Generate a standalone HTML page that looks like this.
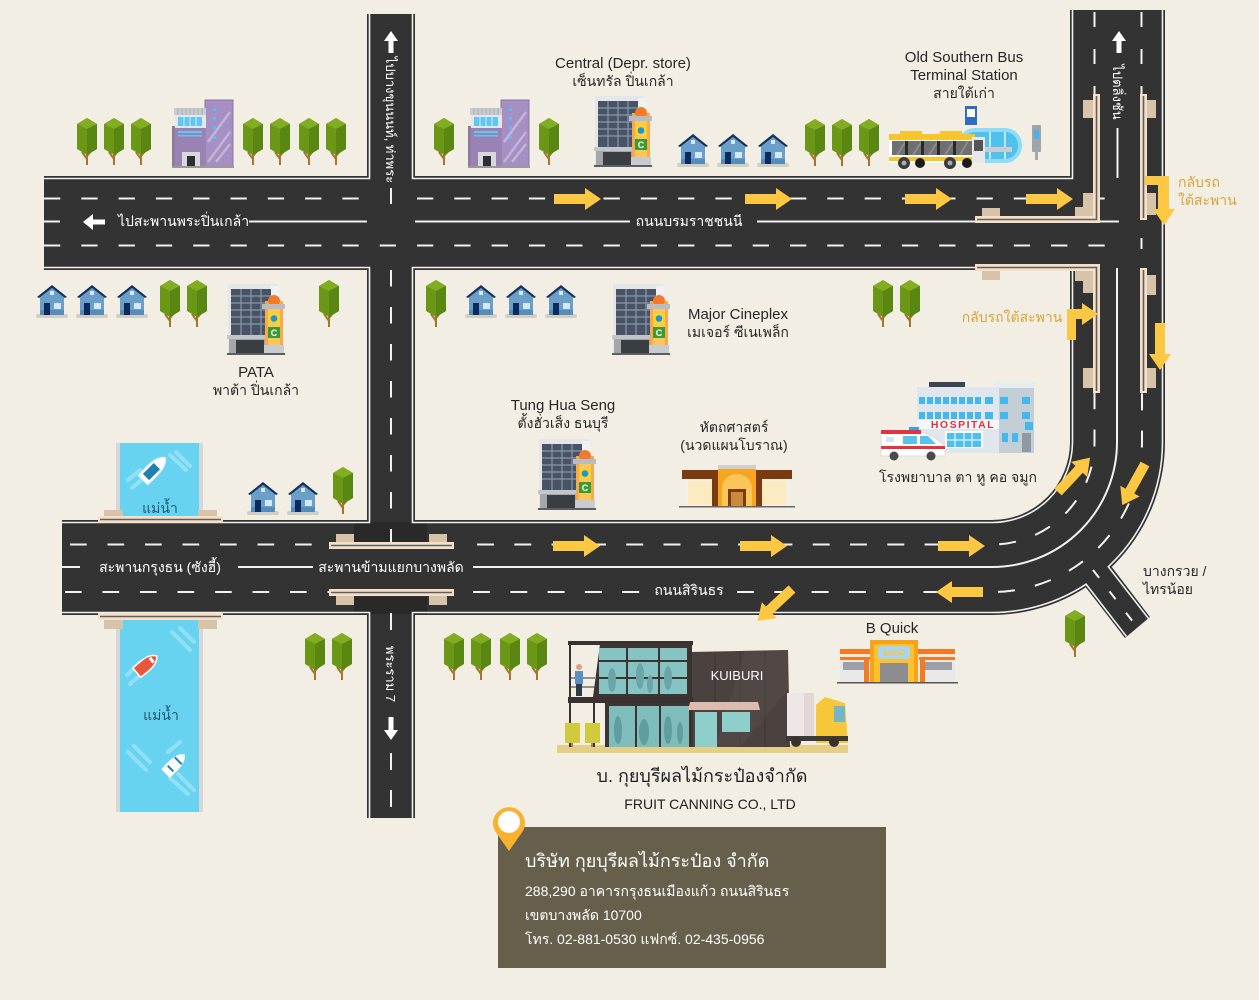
<!DOCTYPE html>
<html><head><meta charset="utf-8">
<style>
html,body{margin:0;padding:0;background:#f2eee4;width:1259px;height:1000px;overflow:hidden}
svg{display:block}
text{font-family:"Liberation Sans","DejaVu Sans",sans-serif}
.l{font-size:14px;fill:#262626;text-anchor:middle}
.e{font-size:15px;fill:#262626;text-anchor:middle}
.w{font-size:14px;fill:#ffffff;text-anchor:middle}
.o{font-size:14px;fill:#d9a43c}
</style></head><body>
<svg width="1259" height="1000" viewBox="0 0 1259 1000" xmlns="http://www.w3.org/2000/svg">
<defs>
 <g id="tree">
  <path d="M0 0V-14M0 -6L-5 -13M0 -9L5 -15" stroke="#a5752f" stroke-width="2" fill="none"/>
  <polygon points="-10,-41 0,-47 10,-41 10,-16 0,-10 -10,-16" fill="#6a9816"/>
  <polygon points="-10,-41 0,-47 10,-41 0,-36" fill="#82ad22"/>
  <polygon points="0,-36 10,-41 10,-16 0,-10" fill="#5a8612"/>
 </g>
 <g id="house">
  <rect x="0" y="30" width="32" height="4" rx="2" fill="#d3cec3"/>
  <rect x="4" y="13" width="24" height="18" fill="#6a9fca"/>
  <rect x="4" y="26" width="24" height="5" fill="#568cb9"/>
  <polygon points="16,4 28,13 4,13" fill="#6a9fca"/>
  <polygon points="16,1 31,13 29,14 16,4 3,14 1,13" fill="#14305c"/>
  <rect x="14" y="7" width="4" height="4" fill="#d6e8f4"/>
  <rect x="8" y="19" width="6" height="12" fill="#0d2a5c"/>
  <rect x="18" y="19" width="7" height="6" fill="#d6e8f4"/>
 </g>
 <g id="mall">
  <rect x="1" y="1" width="50" height="70" fill="#e4e6e9"/>
  <rect x="4" y="6" width="40" height="46" fill="#485465"/>
  <path d="M14 6V52M24 6V52M34 6V52M4 13H44M4 20H44M4 27H44M4 34H44M4 41H44" stroke="#8897a9" stroke-width="1.2"/>
  <rect x="44" y="3" width="8" height="50" fill="#f0f1f3"/>
  <rect x="0" y="52" width="50" height="4" fill="#c2c6cb"/>
  <rect x="2" y="56" width="46" height="15" fill="#a3a7ac"/>
  <rect x="9" y="57" width="28" height="14" fill="#3a3d42"/>
  <rect x="38" y="18" width="18" height="44" fill="#f8a94e"/>
  <rect x="41" y="18" width="12" height="44" fill="#fbc65c"/>
  <circle cx="47" cy="18" r="6" fill="#f27a2b"/>
  <rect x="35" y="21" width="23" height="5" fill="#b9bdc2"/>
  <rect x="41" y="30" width="12" height="11" fill="#fcd32b"/>
  <circle cx="47" cy="35.5" r="3.3" fill="#1f93dc"/>
  <rect x="41" y="44" width="12" height="11" fill="#3b9b2e"/>
  <text x="47" y="53" font-size="9" font-weight="bold" fill="#ffffff" text-anchor="middle">C</text>
  <rect x="37" y="62" width="20" height="9" fill="#c8ccd0"/>
  <rect x="0" y="70" width="58" height="2" fill="#5b5e62"/>
 </g>
 <g id="purp">
  <rect x="33" y="0" width="28" height="67" fill="#a68fc2"/>
  <path d="M36 62L58 32M36 42L58 12M44 62L58 44" stroke="#c4b4d9" stroke-width="2.5"/>
  <rect x="33" y="0" width="28" height="67" fill="none" stroke="#8a74a7" stroke-width="1"/>
  <rect x="41" y="8" width="3" height="3" fill="#4fc3f7"/>
  <rect x="41" y="17" width="3" height="3" fill="#4fc3f7"/>
  <rect x="41" y="26" width="3" height="3" fill="#4fc3f7"/>
  <rect x="41" y="36" width="3" height="3" fill="#4fc3f7"/>
  <rect x="2" y="8" width="32" height="7" fill="#c9ccd1"/>
  <path d="M6 8V15M10 8V15M14 8V15M18 8V15M22 8V15M26 8V15M30 8V15" stroke="#a9adb3" stroke-width="1"/>
  <rect x="0" y="26" width="5" height="41" fill="#8d7aa3"/>
  <rect x="3" y="15" width="31" height="13" fill="#e4e6ea"/>
  <rect x="6" y="17" width="24" height="9" fill="#5ec8f2"/>
  <path d="M12 17V26M18 17V26M24 17V26" stroke="#e4e6ea" stroke-width="1"/>
  <rect x="3" y="28" width="31" height="39" fill="#9b82b5"/>
  <rect x="6" y="31" width="24" height="2" fill="#5ec8f2"/>
  <rect x="6" y="35" width="24" height="1.5" fill="#5ec8f2"/>
  <rect x="10" y="52" width="18" height="15" fill="#d8d8dc"/>
  <rect x="15" y="56" width="8" height="11" fill="#2d2d33"/>
  <rect x="0" y="66" width="62" height="2" fill="#9a9a9a"/>
 </g>
 <polygon id="arr" points="0,-5 31,-5 31,-11 47,0 31,11 31,5 0,5" fill="#fcc843"/>
 <g id="boat">
  <path d="M0 -16C6 -12 7 -4 6 13L-6 13C-7 -4 -6 -12 0 -16Z" fill="#ffffff" stroke="#d9eef5" stroke-width="1"/>
  <rect x="-4" y="-5" width="8" height="14" fill="#1f7fb0"/>
 </g>
</defs>

<rect width="1259" height="1000" fill="#f2eee4"/>

<!-- ROADS -->
<g fill="#333333">
 <rect x="44" y="176" width="1030" height="94"/>
 <rect x="367" y="14" width="48" height="804"/>
 <path d="M1070 10H1165V442A173 173 0 0 1 992 615H62V520H992A78 78 0 0 0 1070 442Z"/>
 <polygon points="1070,567 1095,545 1150,617 1125,638"/>
</g>
<rect x="354" y="522" width="73" height="20" fill="#292929"/>
<rect x="354" y="597" width="73" height="17" fill="#292929"/>

<!-- lane markings -->
<g stroke="#f2f2f2" stroke-width="2" fill="none">
 <path d="M44 198.5H362" stroke-dasharray="16.3 21"/>
 <path d="M417 198.5H1110" stroke-dasharray="16.3 21"/>
 <path d="M44 245.5H1110" stroke-dasharray="16.3 21"/>
 <path d="M44 221.5H60M249 221.5H367M415 221.5H630M757 221.5H1119"/>
 <path d="M70 544.5H330" stroke-dasharray="16.7 20.8"/>
 <path d="M477 544.5H992A102.5 102.5 0 0 0 1094.5 442V393" stroke-dasharray="17 20.3"/>
 <path d="M65 592H330" stroke-dasharray="16.7 20.8"/>
 <path d="M473 592H650" stroke-dasharray="17 20.3"/>
 <path d="M737 592H992A150 150 0 0 0 1142 442V393" stroke-dasharray="17 20.3"/>
 <path d="M62 567H80M238 567H313"/>
 <path d="M473 567H992A125 125 0 0 0 1117 442V268"/>
 <path d="M1117.5 128V178"/>
 <path d="M1141.5 238V249"/>
 <path d="M1094.5 12V94" stroke-dasharray="15 22"/>
 <path d="M1141.5 12V94" stroke-dasharray="15 22"/>
 <path d="M391 188V204"/>
 <path d="M391 270V545" stroke-dasharray="16.5 20.5"/>
 <path d="M391 613V630M391 753V770M391 790V807"/>
 <path d="M1093 570L1137 627" stroke-dasharray="10 17"/>
</g>
<!-- edge lines -->
<g stroke="#f0f0f0" stroke-width="1.6" fill="none">
 <path d="M44 178.5H369.5V14"/>
 <path d="M412.5 14V178.5H1072.5V10"/>
 <path d="M44 267.5H369.5V522.5H62"/>
 <path d="M412.5 267.5H1072.5V442A80.5 80.5 0 0 1 992 522.5H412.5Z"/>
 <path d="M62 612.5H369.5V818"/>
 <path d="M412.5 818V612.5H992A170.5 170.5 0 0 0 1086.1 584.2L1126.5 636.5"/>
 <path d="M1148.5 618.5L1108.3 566.7A170.5 170.5 0 0 0 1162.5 442V10"/>
</g>

<!-- RIVER -->
<rect x="116" y="443" width="87" height="75" fill="#d6d7da"/>
<rect x="120" y="443" width="79" height="75" fill="#67d3f0"/>
<rect x="116" y="618" width="87" height="194" fill="#d6d7da"/>
<rect x="120" y="618" width="79" height="194" fill="#67d3f0"/>
<g stroke="#92e0f5" stroke-width="4" stroke-linecap="round" fill="none">
 <path d="M128 480L140 470M132 488L146 476M170 455L186 470M176 452L190 466"/>
 <path d="M172 632L190 650M180 628L194 642M127 675L140 662M130 684L144 672"/>
 <path d="M128 752L146 770M134 746L150 762M170 778L188 794M178 774L194 790M168 752L180 742"/>
</g>
<use href="#boat" transform="translate(153,470) rotate(45) scale(1.1)"/>
<g transform="translate(146,665) rotate(50)">
 <path d="M0 -14C6 -10 7 -3 6 12L-6 12C-7 -3 -6 -10 0 -14Z" fill="#e8573c" stroke="#ffffff" stroke-width="1.5"/>
 <rect x="-3" y="-9" width="6" height="3" fill="#ffffff"/>
</g>
<g transform="translate(174,765) rotate(45)">
 <path d="M0 -15C6 -11 7 -3 6 12L-6 12C-7 -3 -6 -11 0 -15Z" fill="#ffffff"/>
 <path d="M-5 -6H5M-4 5H4" stroke="#1f7fb0" stroke-width="2"/>
</g>
<text x="160" y="513" font-size="14" fill="#1d5a72" text-anchor="middle">แม่น้ำ</text>
<text x="161" y="720" font-size="14" fill="#1d5a72" text-anchor="middle">แม่น้ำ</text>

<!-- BRIDGE RAILS -->
<g fill="#d6c3a9">
 <rect x="104" y="510" width="19" height="8"/><rect x="198" y="510" width="19" height="8"/>
 <rect x="104" y="620" width="19" height="9"/><rect x="198" y="620" width="19" height="9"/>
 <rect x="336" y="534" width="18" height="9"/><rect x="429" y="534" width="18" height="9"/>
 <rect x="336" y="596" width="18" height="9"/><rect x="429" y="596" width="18" height="9"/>
 <rect x="1083" y="100" width="10" height="18"/>
 <rect x="1083" y="193" width="10" height="23"/><rect x="1075" y="207" width="18" height="9"/>
 <rect x="982" y="208" width="18" height="8"/>
 <rect x="982" y="271" width="18" height="9"/>
 <rect x="1075" y="271" width="18" height="10"/><rect x="1083" y="271" width="10" height="22"/>
 <rect x="1083" y="368" width="10" height="20"/>
 <rect x="1147" y="100" width="9" height="18"/><rect x="1147" y="193" width="9" height="22"/>
 <rect x="1147" y="275" width="9" height="20"/><rect x="1147" y="368" width="9" height="20"/>
</g>
<g fill="#f7dfc4">
 <rect x="98" y="516" width="125" height="7"/>
 <rect x="98" y="613" width="125" height="7"/>
 <rect x="329" y="542" width="125" height="7"/>
 <rect x="329" y="589" width="125" height="7"/>
 <rect x="975" y="216" width="125" height="7"/>
 <rect x="1093" y="94" width="7" height="129"/>
 <rect x="975" y="264" width="125" height="7"/>
 <rect x="1093" y="264" width="7" height="129"/>
 <rect x="1140" y="94" width="7" height="126"/>
 <rect x="1140" y="268" width="7" height="125"/>
</g>
<g stroke="#59606a" stroke-width="1.6" fill="none">
 <path d="M100 519.5H221M100 616.5H221M331 545.5H452M331 592.5H452"/>
 <path d="M977 219.5H1096.5V96M977 267.5H1096.5V391"/>
 <path d="M1143.5 96V218M1143.5 270V391"/>
</g>

<!-- ARROWS -->
<use href="#arr" transform="translate(554,199)"/>
<use href="#arr" transform="translate(745,199)"/>
<use href="#arr" transform="translate(905,199)"/>
<use href="#arr" transform="translate(1026,199)"/>
<use href="#arr" transform="translate(553,546)"/>
<use href="#arr" transform="translate(740,546)"/>
<use href="#arr" transform="translate(938,546)"/>
<use href="#arr" transform="translate(983,592) rotate(180)"/>
<use href="#arr" transform="translate(792,589) rotate(137)"/>
<use href="#arr" transform="translate(1058,492) rotate(-47)"/>
<use href="#arr" transform="translate(1145,464) rotate(119)"/>
<use href="#arr" transform="translate(1160,323) rotate(90)"/>
<polygon points="1145,176 1169,176 1169,209 1175,209 1164,225 1153,209 1158,209 1158,185 1145,185" fill="#fcc843"/>
<polygon points="1067,340 1067,309 1082,309 1082,303 1098,314 1082,325 1082,319 1076,319 1076,340" fill="#fcc843"/>
<g fill="#ffffff">
 <polygon points="83,222 93,214 93,219.5 105,219.5 105,224.5 93,224.5 93,230"/>
 <polygon points="391,31 398,41 393.5,41 393.5,53 388.5,53 388.5,41 384,41"/>
 <polygon points="1119,31 1126,41 1121.5,41 1121.5,53 1116.5,53 1116.5,41 1112,41"/>
 <polygon points="391,740 398,730 393.5,730 393.5,717 388.5,717 388.5,730 384,730"/>
</g>

<!-- ROAD LABELS -->
<text x="118" y="226" font-size="14" fill="#ffffff">ไปสะพานพระปิ่นเกล้า</text>
<text class="w" x="689" y="226">ถนนบรมราชชนนี</text>
<text class="w" x="160" y="572">สะพานกรุงธน (ซังฮี้)</text>
<text class="w" x="391" y="572">สะพานข้ามแยกบางพลัด</text>
<text class="w" x="689" y="595">ถนนสิรินธร</text>
<text class="w" style="font-size:13px" transform="translate(391,120) rotate(90)" x="0" y="5">ไปบางขุนนนท์, ท่าพระ</text>
<text class="w" style="font-size:13px" transform="translate(1118,92) rotate(90)" x="0" y="5">ไปตลิ่งชัน</text>
<text class="w" style="font-size:13px" transform="translate(391,674) rotate(90)" x="0" y="5">พระราม 7</text>

<!-- TREES -->
<use href="#tree" x="87" y="165"/><use href="#tree" x="114" y="165"/><use href="#tree" x="141" y="165"/>
<use href="#tree" x="253" y="165"/><use href="#tree" x="280" y="165"/><use href="#tree" x="309" y="165"/><use href="#tree" x="336" y="165"/>
<use href="#tree" x="444" y="165"/><use href="#tree" x="549" y="165"/>
<use href="#tree" x="815" y="166"/><use href="#tree" x="842" y="166"/><use href="#tree" x="869" y="166"/>
<use href="#tree" x="170" y="327"/><use href="#tree" x="197" y="327"/><use href="#tree" x="329" y="327"/>
<use href="#tree" x="436" y="327"/><use href="#tree" x="883" y="327"/><use href="#tree" x="910" y="327"/>
<use href="#tree" x="343" y="514"/>
<use href="#tree" x="315" y="680"/><use href="#tree" x="342" y="680"/>
<use href="#tree" x="454" y="680"/><use href="#tree" x="481" y="680"/><use href="#tree" x="510" y="680"/><use href="#tree" x="537" y="680"/>
<use href="#tree" x="1075" y="657"/>

<!-- HOUSES -->
<use href="#house" x="677" y="133"/><use href="#house" x="717" y="133"/><use href="#house" x="757" y="133"/>
<use href="#house" x="36" y="284"/><use href="#house" x="76" y="284"/><use href="#house" x="116" y="284"/>
<use href="#house" x="465" y="284"/><use href="#house" x="505" y="284"/><use href="#house" x="545" y="284"/>
<use href="#house" x="247" y="481"/><use href="#house" x="287" y="481"/>

<!-- BUILDINGS -->
<use href="#purp" x="172" y="100"/>
<use href="#purp" x="468" y="100"/>
<use href="#mall" x="594" y="95"/>
<use href="#mall" x="227" y="283"/>
<use href="#mall" x="612" y="283"/>
<use href="#mall" x="538" y="438"/>

<!-- BUS STATION -->
<rect x="958" y="128" width="64" height="35" rx="17" fill="#8edcf5"/>
<rect x="962" y="132" width="56" height="27" rx="13" fill="#4fc1ec"/>
<path d="M990 132V159M1005 132V159" stroke="#bdeafa" stroke-width="2"/>
<rect x="968" y="147" width="44" height="5" fill="#c7cdd2"/>
<rect x="965" y="106" width="12" height="19" fill="#2e6ec2"/>
<rect x="967" y="109" width="8" height="8" fill="#ffffff"/>
<rect x="1032" y="125" width="9" height="27" rx="1" fill="#9ea4aa"/>
<rect x="1034" y="130" width="5" height="9" fill="#49b5e5"/>
<rect x="1035" y="151" width="3" height="9" fill="#a3a8ad"/>
<rect x="889" y="134" width="86" height="29" rx="2" fill="#ffffff"/>
<rect x="889" y="134" width="86" height="6" fill="#f7c52c"/>
<rect x="900" y="131" width="22" height="4" fill="#f7c52c"/>
<rect x="940" y="131" width="22" height="4" fill="#f7c52c"/>
<rect x="892" y="141" width="80" height="14" fill="#6f6f6f"/>
<path d="M897 155L906 141M913 155L922 141M929 155L938 141M945 155L954 141M960 155L968 141" stroke="#8c8c8c" stroke-width="2"/>
<g fill="#2a2a2a"><rect x="905" y="141" width="3" height="14"/><rect x="921" y="141" width="3" height="14"/><rect x="937" y="141" width="3" height="14"/><rect x="953" y="141" width="3" height="14"/></g>
<rect x="889" y="157" width="86" height="4" fill="#f7c52c"/>
<rect x="972" y="137" width="13" height="26" fill="#e8e8e8"/>
<rect x="974" y="140" width="9" height="11" fill="#555555"/>
<circle cx="920" cy="163" r="5" fill="#1a1a1a"/><circle cx="967" cy="163" r="5" fill="#1a1a1a"/>
<circle cx="904" cy="163" r="6" fill="#3a3a3a"/><circle cx="904" cy="163" r="2.5" fill="#aaaaaa"/>
<circle cx="950" cy="163" r="6" fill="#3a3a3a"/><circle cx="950" cy="163" r="2.5" fill="#aaaaaa"/>

<!-- HOSPITAL -->
<rect x="929" y="382" width="36" height="5" fill="#3d4450"/>
<rect x="997" y="385" width="37" height="68" fill="#c4ced7"/>
<rect x="995" y="382" width="40" height="6" fill="#e6ecf0"/>
<rect x="917" y="387" width="82" height="66" fill="#dfe6ec"/>
<g fill="#44b8ec">
 <rect x="919" y="397" width="6" height="7"/><rect x="927" y="397" width="6" height="7"/><rect x="935" y="397" width="6" height="7"/><rect x="943" y="397" width="6" height="7"/><rect x="951" y="397" width="6" height="7"/><rect x="959" y="397" width="6" height="7"/><rect x="967" y="397" width="6" height="7"/><rect x="975" y="397" width="6" height="7"/><rect x="985" y="397" width="8" height="7"/>
 <rect x="919" y="412" width="6" height="7"/><rect x="927" y="412" width="6" height="7"/><rect x="935" y="412" width="6" height="7"/><rect x="943" y="412" width="6" height="7"/><rect x="951" y="412" width="6" height="7"/><rect x="959" y="412" width="6" height="7"/><rect x="967" y="412" width="6" height="7"/><rect x="975" y="412" width="6" height="7"/><rect x="985" y="412" width="8" height="7"/>
 <rect x="1000" y="397" width="8" height="7"/><rect x="1022" y="397" width="8" height="7"/>
 <rect x="1000" y="412" width="8" height="7"/><rect x="1022" y="412" width="8" height="7"/>
 <rect x="1002" y="433" width="6" height="9"/><rect x="1012" y="433" width="6" height="9"/>
</g>
<rect x="917" y="420" width="82" height="9" fill="#f4f6f8"/>
<text x="963" y="428" font-size="10.5" font-weight="bold" fill="#e5323f" text-anchor="middle" letter-spacing="1.5">HOSPITAL</text>
<rect x="945" y="431" width="38" height="17" fill="#ffffff"/>
<rect x="947" y="433" width="34" height="14" fill="#4fc0ee"/>
<path d="M955 433V447M964 433V447M972 433V447M947 440H981" stroke="#ffffff" stroke-width="1"/>
<rect x="1022" y="433" width="9" height="19" fill="#8e99a3"/>
<rect x="1025" y="422" width="8" height="8" fill="#44b8ec"/>
<!-- ambulance -->
<rect x="909" y="427" width="10" height="3" fill="#3aa0e8"/>
<path d="M881 433H925L935 438L945 446V456H881Z" fill="#ffffff" stroke="#d8d8d8" stroke-width="0.8"/>
<rect x="881" y="430" width="40" height="4" fill="#e2333f"/>
<rect x="881" y="446" width="64" height="3" fill="#e2333f"/>
<rect x="903" y="436" width="14" height="8" fill="#59c3ea"/>
<path d="M920 436H928L936 444H920Z" fill="#59c3ea"/>
<rect x="886" y="437" width="8" height="5" fill="#cfe8f3"/>
<circle cx="894" cy="456" r="4.5" fill="#4a4a4a"/><circle cx="931" cy="456" r="4.5" fill="#4a4a4a"/>

<!-- MASSAGE SHOP -->
<rect x="685" y="478" width="104" height="28" fill="#f4f0e8"/>
<rect x="688" y="481" width="26" height="24" fill="#fcebc0"/>
<rect x="760" y="481" width="26" height="24" fill="#fcebc0"/>
<rect x="682" y="470" width="110" height="9" fill="#7b3a10"/>
<rect x="712" y="470" width="8" height="36" fill="#7b3a10"/>
<rect x="754" y="470" width="8" height="36" fill="#7b3a10"/>
<rect x="718" y="465" width="38" height="42" fill="#f7a51e"/>
<rect x="718" y="465" width="38" height="4" fill="#cfcfcf"/>
<path d="M722 506V488A15 14 0 0 1 752 488V506Z" fill="#fbc55a"/>
<rect x="728" y="489" width="18" height="17" fill="#7b3a10"/>
<rect x="731" y="492" width="12" height="14" fill="#c98a3a"/>
<rect x="679" y="506" width="116" height="1.5" fill="#666666"/>

<!-- B QUICK -->
<rect x="840" y="652" width="115" height="30" fill="#e9e9e9"/>
<rect x="840" y="649" width="115" height="5" fill="#f47a20"/>
<rect x="840" y="657" width="30" height="3" fill="#f47a20"/>
<rect x="919" y="657" width="36" height="3" fill="#f47a20"/>
<rect x="843" y="662" width="26" height="8" fill="#9aa0a6"/>
<rect x="924" y="662" width="28" height="8" fill="#9aa0a6"/>
<rect x="864" y="660" width="5" height="22" fill="#f47a20"/>
<rect x="920" y="660" width="5" height="22" fill="#f47a20"/>
<rect x="870" y="640" width="48" height="43" fill="#f7a21a"/>
<rect x="874" y="644" width="40" height="39" fill="#f9c22e"/>
<rect x="878" y="646" width="32" height="13" rx="3" fill="#a9d6ef"/>
<text x="894" y="656" font-size="8" font-weight="bold" fill="#f3c44d" text-anchor="middle">SHOP</text>
<rect x="880" y="663" width="28" height="20" fill="#8d8d8d"/>
<rect x="837" y="682" width="121" height="1.5" fill="#555555"/>

<!-- FACTORY -->
<rect x="557" y="745" width="291" height="8" fill="#e3cf86"/>
<polygon points="690,652 788,650 790,747 690,747" fill="#4b423f"/>
<path d="M715 652V747M740 651V747M765 651V747" stroke="#3e3532" stroke-width="1"/>
<polygon points="745,651 788,650 788,690 740,747 715,747" fill="#554b47" opacity="0.6"/>
<rect x="568" y="641" width="125" height="4" fill="#3a3230"/>
<polygon points="600,644 692,644 692,697 593,697" fill="#3d3431"/>
<rect x="599" y="648" width="88" height="46" fill="#86c3c3"/>
<path d="M627 648V694M659 648V694M599 661H687M599 678H687" stroke="#3d3431" stroke-width="2"/>
<g fill="#6aa6a8"><ellipse cx="612" cy="680" rx="4" ry="12"/><ellipse cx="640" cy="676" rx="4" ry="13"/><ellipse cx="668" cy="678" rx="4" ry="12"/><ellipse cx="650" cy="684" rx="3" ry="9"/></g>
<path d="M570 641V747M594 697V747" stroke="#3a3230" stroke-width="2"/>
<path d="M570 678H595M570 687H595" stroke="#3a3230" stroke-width="1"/>
<circle cx="579" cy="667" r="3" fill="#e0a27a"/>
<rect x="575" y="671" width="8" height="13" fill="#5a8fc4"/>
<rect x="576" y="684" width="6" height="12" fill="#2f3a4a"/>
<rect x="568" y="697" width="125" height="6" fill="#3a3230"/>
<rect x="605" y="703" width="88" height="44" fill="#3d3431"/>
<rect x="609" y="706" width="80" height="41" fill="#7fbcbc"/>
<path d="M636 706V747M660 706V747" stroke="#3d3431" stroke-width="2"/>
<g fill="#5f9d9f"><ellipse cx="618" cy="730" rx="4" ry="14"/><ellipse cx="644" cy="732" rx="5" ry="13"/><ellipse cx="668" cy="730" rx="4" ry="14"/><ellipse cx="680" cy="733" rx="3" ry="11"/></g>
<rect x="565" y="723" width="15" height="20" fill="#cfcb3c"/>
<rect x="585" y="723" width="15" height="20" fill="#cfcb3c"/>
<path d="M572 743V747M592 743V747" stroke="#8a6a3a" stroke-width="1.5"/>
<polygon points="690,702 758,702 760,710 688,710" fill="#dcbcae"/>
<rect x="695" y="712" width="22" height="35" fill="#8ecfcc"/>
<rect x="722" y="712" width="28" height="20" fill="#8ecfcc"/>
<text x="737" y="680" font-size="13" fill="#ffffff" text-anchor="middle">KUIBURI</text>
<rect x="787" y="693" width="27" height="43" fill="#efe6e6"/>
<rect x="804" y="693" width="10" height="43" fill="#e2d6d6"/>
<path d="M816 743V705L825 697L845 703L848 743Z" fill="#f6c73a"/>
<rect x="834" y="706" width="11" height="16" fill="#74b6c8"/>
<rect x="786" y="736" width="62" height="5" fill="#3a3a3a"/>
<circle cx="796" cy="742" r="5" fill="#3b3030"/>
<circle cx="834" cy="742" r="5" fill="#3b3030"/>

<!-- MAP LABELS -->
<text class="e" x="623" y="68">Central (Depr. store)</text>
<text class="l" x="623" y="86">เซ็นทรัล ปิ่นเกล้า</text>
<text class="e" x="964" y="62">Old Southern Bus</text>
<text class="e" x="964" y="80">Terminal Station</text>
<text class="l" x="964" y="98">สายใต้เก่า</text>
<text class="e" x="256" y="377">PATA</text>
<text class="l" x="256" y="395">พาต้า ปิ่นเกล้า</text>
<text class="e" x="738" y="319">Major Cineplex</text>
<text class="l" x="738" y="337">เมเจอร์ ซีเนเพล็ก</text>
<text class="e" x="563" y="410">Tung Hua Seng</text>
<text class="l" x="563" y="428">ตั้งฮั่วเส็ง ธนบุรี</text>
<text class="l" x="734" y="432">หัตถศาสตร์</text>
<text class="l" x="734" y="450">(นวดแผนโบราณ)</text>
<text class="l" x="958" y="482">โรงพยาบาล ตา หู คอ จมูก</text>
<text class="e" x="892" y="633">B Quick</text>
<text x="1143" y="576" font-size="14" fill="#262626">บางกรวย /</text>
<text x="1143" y="594" font-size="14" fill="#262626">ไทรน้อย</text>
<text class="o" x="1012" y="322" text-anchor="middle">กลับรถใต้สะพาน</text>
<text class="o" x="1178" y="187">กลับรถ</text>
<text class="o" x="1178" y="205">ใต้สะพาน</text>
<text x="702" y="782" font-size="18" fill="#1e1e1e" text-anchor="middle">บ. กุยบุรีผลไม้กระป๋องจำกัด</text>
<text x="710" y="809" font-size="14" fill="#1e1e1e" text-anchor="middle">FRUIT CANNING CO., LTD</text>

<!-- ADDRESS BOX -->
<rect x="498" y="827" width="388" height="141" fill="#665f4b"/>
<path d="M509 851L495 831A16 16 0 1 1 523 831Z" fill="#fbb130"/>
<circle cx="509" cy="822" r="11" fill="#ffffff"/>
<text x="525" y="867" font-size="18" fill="#ffffff">บริษัท กุยบุรีผลไม้กระป๋อง จำกัด</text>
<text x="525" y="896" font-size="14" fill="#ffffff">288,290 อาคารกรุงธนเมืองแก้ว ถนนสิรินธร</text>
<text x="525" y="920" font-size="14" fill="#ffffff">เขตบางพลัด 10700</text>
<text x="525" y="944" font-size="14" fill="#ffffff">โทร. 02-881-0530  แฟกซ์. 02-435-0956</text>
</svg>
</body></html>
